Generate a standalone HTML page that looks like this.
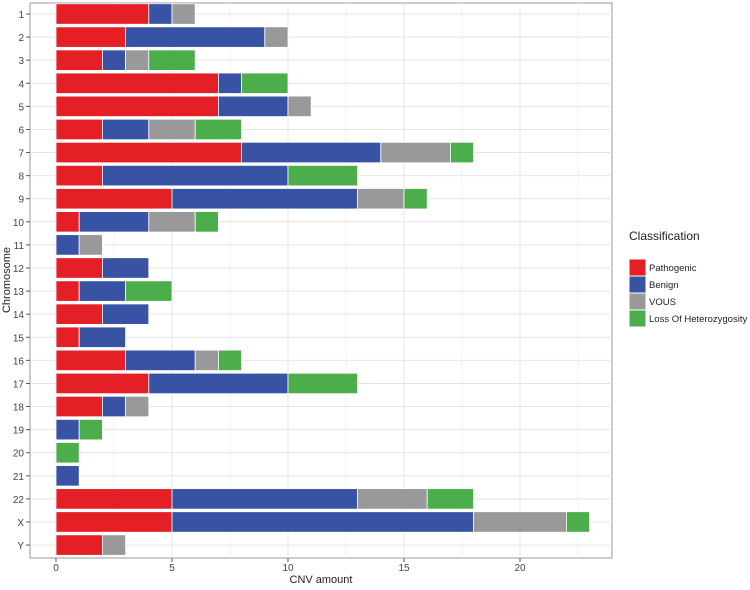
<!DOCTYPE html>
<html><head><meta charset="utf-8"><style>
body{margin:0;background:#fff;font-family:"Liberation Sans",sans-serif}
svg text{font-family:"Liberation Sans",sans-serif}
</style></head><body>
<svg id="c" width="750" height="585"></svg>
<script>
const categories=["1","2","3","4","5","6","7","8","9","10","11","12","13","14","15","16","17","18","19","20","21","22","X","Y"];
const pathogenic=[4,3,2,7,7,2,8,2,5,1,0,2,1,2,1,3,4,2,0,0,0,5,5,2];
const benign=[1,6,1,1,3,2,6,8,8,3,1,2,2,2,2,3,6,1,1,0,1,8,13,0];
const vous=[1,1,1,0,1,2,3,0,2,2,1,0,0,0,0,1,0,1,0,0,0,3,4,1];
const loh=[0,0,2,2,0,2,1,3,1,1,0,0,2,0,0,1,3,0,1,1,0,2,1,0];
const xTicks=[0,5,10,15,20];
const seriesNames=["Pathogenic","Benign","VOUS","Loss Of Heterozygosity"];
const colors=["#e41f26","#3953a4","#999999","#4bae4a"];
const NS="http://www.w3.org/2000/svg";
const svg=document.getElementById('c');
function mk(t,a,p){const e=document.createElementNS(NS,t);for(const k in a)e.setAttribute(k,a[k]);(p||svg).appendChild(e);return e;}
const L=30,R=612,T=3,B=558;
const x=v=>56+v*23.2;
const y=i=>14+i*23.09;
const bh=20.5;
const panel=mk('rect',{x:L,y:T,width:R-L,height:B-T,fill:'#fff',stroke:'#999','stroke-width':1});


for(let v=0;v<=25;v+=2.5){const xx=x(v);if(xx>R)break;mk('line',{x1:xx,x2:xx,y1:T,y2:B,stroke:v%5==0?'#e4e4e4':'#f2f2f2'});}
categories.forEach((c,i)=>mk('line',{x1:L,x2:R,y1:y(i),y2:y(i),stroke:'#e4e4e4'}));
const series=[pathogenic,benign,vous,loh];
categories.forEach((c,i)=>{
  let acc=0;
  series.forEach((s,k)=>{
    if(s[i]>0){
      const r=mk('rect',{x:x(acc),y:y(i)-bh/2,width:x(acc+s[i])-x(acc),height:bh,fill:colors[k],stroke:'#fff','stroke-width':0.8});
      
      
    }
    acc+=s[i];
  });
  mk('line',{x1:L-4,x2:L,y1:y(i),y2:y(i),stroke:'#555'});
  const t=mk('text',{x:L-6,y:y(i)+4,'text-anchor':'end','font-size':10,fill:'#444'});t.textContent=c;
  
  
});
xTicks.forEach(v=>{
  mk('line',{x1:x(v),x2:x(v),y1:B,y2:B+4,stroke:'#555'});
  const t=mk('text',{x:x(v),y:B+13,'text-anchor':'middle','font-size':10,fill:'#444'});t.textContent=v;
  
  
});
const xt=mk('text',{x:321,y:583,'text-anchor':'middle','font-size':11,fill:'#222'});xt.textContent='CNV amount';


const yt=mk('text',{x:10,y:280,'text-anchor':'middle','font-size':11,fill:'#222',transform:'rotate(-90 10 280)'});yt.textContent='Chromosome';


const lt=mk('text',{x:629,y:240,'font-size':12,fill:'#222'});lt.textContent='Classification';


seriesNames.forEach((n,k)=>{
  const g=mk('g',{});
  
  
  const yy=259+k*17;
  mk('rect',{x:629,y:yy,width:17,height:17,fill:colors[k],stroke:'#fff'},g);
  const t=mk('text',{x:649,y:yy+12,'font-size':9.5,fill:'#222'},g);t.textContent=n;
});
</script>
</body></html>
